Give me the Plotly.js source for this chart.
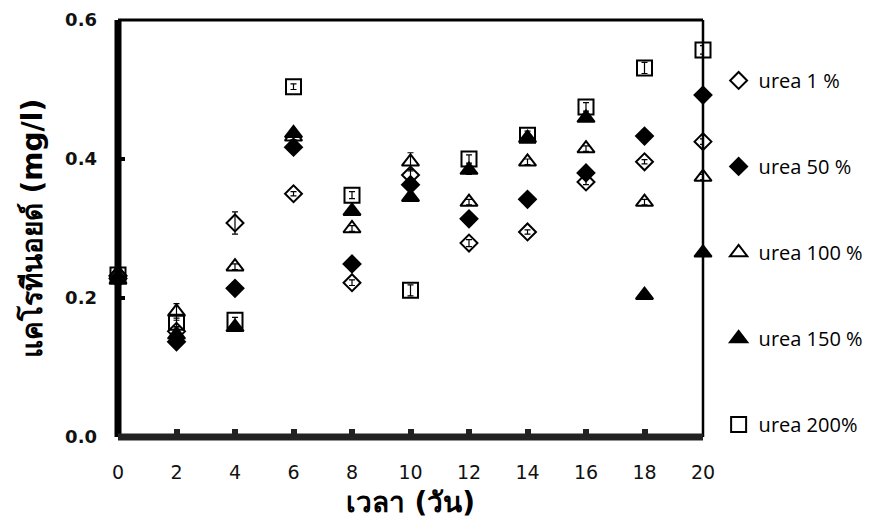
<!DOCTYPE html>
<html>
<head>
<meta charset="utf-8">
<script src="https://cdn.plot.ly/plotly-3.0.1.min.js"></script>
<style>html,body{margin:0;padding:0;background:#fff;}#chart{width:870px;height:521px;}</style>
</head>
<body>
<div id="chart"></div>
<script>
// Day (วัน)
const days = [0, 2, 4, 6, 8, 10, 12, 14, 16, 18, 20];
const tickLabels = ['0', '2', '4', '6', '8', '10', '12', '14', '16', '18', '20'];
// Carotenoid (mg/l) by urea level
const urea1   = [0.232, 0.152, 0.308, 0.350, 0.222, 0.377, 0.279, 0.295, 0.367, 0.396, 0.425];
const urea50  = [0.228, 0.137, 0.214, 0.417, 0.249, 0.363, 0.314, 0.342, 0.380, 0.433, 0.492];
const urea100 = [0.236, 0.180, 0.245, 0.432, 0.300, 0.396, 0.338, 0.396, 0.415, 0.338, 0.374];
const urea150 = [0.226, 0.147, 0.158, 0.437, 0.325, 0.345, 0.384, 0.430, 0.459, 0.204, 0.265];
const urea200 = [0.233, 0.165, 0.168, 0.504, 0.348, 0.211, 0.400, 0.434, 0.475, 0.531, 0.557];
// error bars (± mg/l)
const err1   = [0.004, 0.005, 0.016, 0.003, 0.004, 0.008, 0.005, 0.003, 0.004, 0.003, 0.004];
const err50  = [0.004, 0.004, 0.003, 0.004, 0.003, 0.004, 0.004, 0.003, 0.003, 0.003, 0.003];
const err100 = [0.004, 0.012, 0.004, 0.004, 0.004, 0.013, 0.004, 0.004, 0.004, 0.004, 0.004];
const err150 = [0.004, 0.004, 0.003, 0.004, 0.004, 0.004, 0.006, 0.004, 0.004, 0.003, 0.003];
const err200 = [0.004, 0.006, 0.004, 0.004, 0.005, 0.008, 0.006, 0.006, 0.006, 0.008, 0.006];
const names = ['urea 1 %', 'urea 50 %', 'urea 100 %', 'urea 150 %', 'urea 200%'];

const series = [
  {y: urea1,   e: err1,   sym: 'diamond-open',     size: 13},
  {y: urea50,  e: err50,  sym: 'diamond',          size: 13},
  {y: urea100, e: err100, sym: 'triangle-up-open', size: 15},
  {y: urea150, e: err150, sym: 'triangle-up',      size: 15},
  {y: urea200, e: err200, sym: 'square-open',      size: 15}
];

const traces = series.map((s, i) => ({
  type: 'scatter', mode: 'markers', x: days, y: s.y, name: names[i],
  legendgroup: 'g' + i, cliponaxis: false,
  marker: {symbol: s.sym, size: s.size, color: '#000', line: {color: '#000', width: 2}},
  error_y: {type: 'data', array: s.e, visible: true, color: '#000', thickness: 1.2, width: 3}
}));

const fontFam = 'DejaVu Sans, Noto Sans, sans-serif';
const layout = {
  width: 870, height: 521,
  margin: {l: 118, r: 167, t: 20, b: 84},
  paper_bgcolor: '#fff', plot_bgcolor: '#fff',
  showlegend: true,
  legend: {xref: 'container', yref: 'container', x: 0.826, xanchor: 'left', y: 0.883, yanchor: 'top',
           tracegroupgap: 57, maxheight: 500,
           font: {family: 'Open Sans, Lato, sans-serif', size: 20, color: '#000'},
           bgcolor: 'rgba(0,0,0,0)'},
  xaxis: {range: [0, 20], tickvals: days, ticktext: tickLabels, showgrid: false, zeroline: false,
          showline: false, ticks: 'inside', ticklen: 8, tickwidth: 6, tickcolor: '#222',
          ticklabelstandoff: 22,
          tickfont: {family: fontFam, size: 19, color: '#111'},
          title: {text: 'เวลา (วัน)', font: {family: fontFam, size: 28, color: '#000', weight: 'bold'}, standoff: 10}},
  yaxis: {range: [0, 0.6], tickvals: [0, 0.2, 0.4, 0.6], ticktext: ['0.0', '0.2', '0.4', '0.6'],
          showgrid: false, zeroline: false, showline: false,
          ticks: 'inside', ticklen: 7, tickwidth: 4, tickcolor: '#000',
          ticklabelstandoff: 20,
          tickfont: {family: fontFam, size: 18, color: '#111', weight: 'bold'},
          title: {text: 'แคโรทีนอยด์ (mg/l)', font: {family: fontFam, size: 28, color: '#000', weight: 'bold'}, standoff: 14}},
  shapes: [
    {type: 'line', xref: 'paper', yref: 'paper', x0: 0, x1: 1, y0: 1, y1: 1, line: {color: '#000', width: 3}, layer: 'below'},
    {type: 'line', xref: 'paper', yref: 'paper', x0: 1, x1: 1, y0: 0, y1: 1, line: {color: '#000', width: 2.5}, layer: 'below'},
    {type: 'line', xref: 'paper', yref: 'paper', x0: 0, x1: 0, y0: 0, y1: 1, line: {color: '#000', width: 7}, layer: 'below'},
    {type: 'line', xref: 'paper', yref: 'paper', x0: 0, x1: 1, y0: 0, y1: 0, line: {color: '#222', width: 7}, layer: 'below'}
  ]
};

Plotly.newPlot('chart', traces, layout, {displayModeBar: false, staticPlot: true});
</script>
</body>
</html>
